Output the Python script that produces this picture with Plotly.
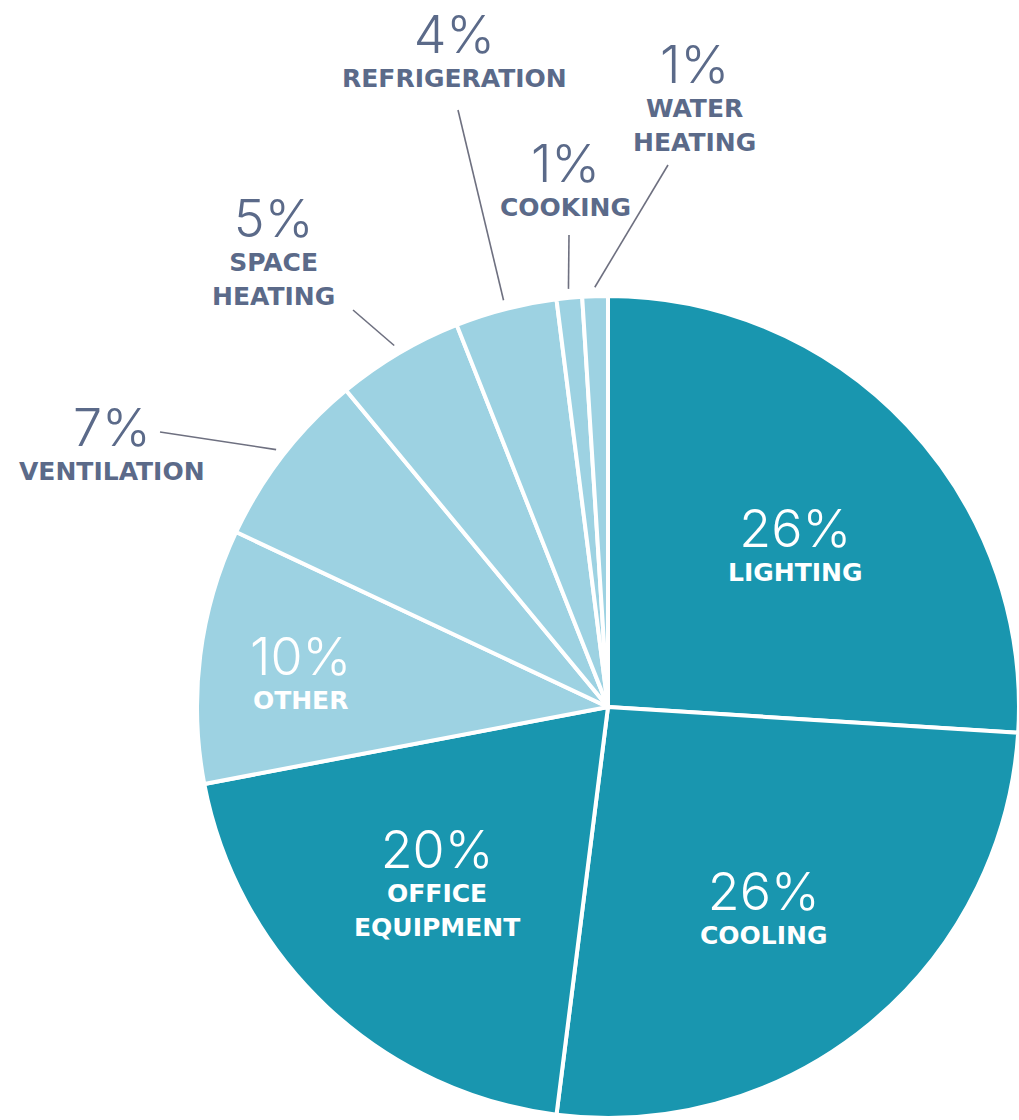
import math
import plotly.graph_objects as go

# ---- data ----
categories = ["Lighting", "Cooling", "Office Equipment", "Other", "Ventilation",
              "Space Heating", "Refrigeration", "Cooking", "Water Heating"]
values = [26, 26, 20, 10, 7, 5, 4, 1, 1]
label_lines = [["LIGHTING"], ["COOLING"], ["OFFICE", "EQUIPMENT"], ["OTHER"], ["VENTILATION"],
               ["SPACE", "HEATING"], ["REFRIGERATION"], ["COOKING"], ["WATER", "HEATING"]]

DARK = "#1996AF"
LIGHT = "#9DD2E2"
slice_colors = [DARK, DARK, DARK, LIGHT, LIGHT, LIGHT, LIGHT, LIGHT, LIGHT]

W, H = 1019, 1120
dom_x = [0.1933, 1.0]
dom_y = [0.0018, 0.7357]

# label layout (pixel positions in the window): block centre; inside flag; leader tail
label_layout = {
    "Lighting":         dict(pos=(795, 542), inside=True),
    "Cooling":          dict(pos=(764, 905), inside=True),
    "Office Equipment": dict(pos=(437, 880), inside=True),
    "Other":            dict(pos=(300, 670), inside=True),
    "Ventilation":      dict(pos=(112, 441), inside=False, tail=(160, 432)),
    "Space Heating":    dict(pos=(273, 249), inside=False, tail=(353, 310)),
    "Refrigeration":    dict(pos=(454, 48), inside=False, tail=(458, 110)),
    "Cooking":          dict(pos=(565, 177), inside=False, tail=(569, 235)),
    "Water Heating":    dict(pos=(694, 95), inside=False, tail=(668, 165)),
}

fig = go.Figure(go.Pie(
    labels=categories,
    values=values,
    sort=False,
    direction="clockwise",
    rotation=0,
    marker=dict(colors=slice_colors, line=dict(color="white", width=4)),
    textinfo="none",
    hoverinfo="label+percent",
    showlegend=False,
    domain=dict(x=dom_x, y=dom_y),
))

def px2paper(px, py):
    return px / W, 1 - py / H

cx = (dom_x[0] + dom_x[1]) / 2 * W
cy = H * (1 - (dom_y[0] + dom_y[1]) / 2)
r = min(W * (dom_x[1] - dom_x[0]), H * (dom_y[1] - dom_y[0])) / 2

total = sum(values)
annotations = []
shapes = []
cum = 0
TEXT_OUT = "#5B6A89"
NUM_STYLE = "font-size:52px;font-weight:300"
NAME_STYLE = "font-family:'DejaVu Sans',sans-serif;font-size:25px;font-weight:bold"
for cat, v, nm in zip(categories, values, label_lines):
    mid = (cum + v / 2) / total * 2 * math.pi
    cum += v
    lay = label_layout[cat]
    col = "white" if lay["inside"] else TEXT_OUT
    parts = [f"<span style=\"{NUM_STYLE}\">{v}%</span>"]
    parts += [f"<span style=\"{NAME_STYLE}\">{ln}</span>" for ln in nm]
    ax_, ay_ = px2paper(*lay["pos"])
    annotations.append(dict(x=ax_, y=ay_, xref="paper", yref="paper",
                            text="<br>".join(parts),
                            showarrow=False, xanchor="center", yanchor="middle",
                            align="center",
                            font=dict(family="Inter, Lato, sans-serif", size=26, color=col)))
    if not lay["inside"]:
        tip_r = r + 9
        tx = cx + tip_r * math.sin(mid)
        ty = cy - tip_r * math.cos(mid)
        x0, y0 = px2paper(*lay["tail"])
        x1, y1 = px2paper(tx, ty)
        shapes.append(dict(type="line", xref="paper", yref="paper",
                           x0=x0, y0=y0, x1=x1, y1=y1,
                           line=dict(color="#6E7080", width=1.6)))

fig.update_layout(
    width=W, height=H,
    margin=dict(l=0, r=0, t=0, b=0),
    paper_bgcolor="white",
    plot_bgcolor="white",
    annotations=annotations,
    shapes=shapes,
)

# remove the browser's default 8px body margin so the figure fills the window exactly
fig.write_html("out.html",
               config={"displayModeBar": False},
               post_script="document.body.style.margin='0';document.body.style.overflow='hidden';")
